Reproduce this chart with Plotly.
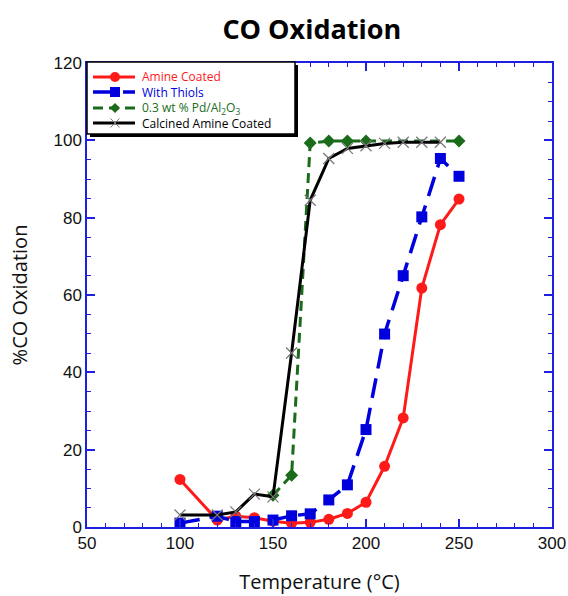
import plotly.graph_objects as go

# Temperatures (°C) and % CO conversion for each catalyst
temp_amine = [100, 120, 130, 140, 150, 160, 170, 180, 190, 200, 210, 220, 230, 240, 250]
conv_amine = [12.3, 1.8, 2.8, 2.4, 1.5, 1.0, 1.2, 2.0, 3.5, 6.4, 15.7, 28.2, 61.8, 78.2, 84.8]

temp_thiols = [100, 120, 130, 140, 150, 160, 170, 180, 190, 200, 210, 220, 230, 240, 250]
conv_thiols = [1.0, 2.8, 1.4, 1.4, 1.8, 2.9, 3.4, 7.0, 10.9, 25.2, 49.9, 65.0, 80.2, 95.3, 90.7]

temp_pd = [150, 160, 170, 180, 190, 200, 250]
conv_pd = [8.2, 13.4, 99.3, 99.8, 99.8, 99.8, 99.8]

temp_calcined = [100, 120, 130, 140, 150, 160, 170, 180, 190, 200, 210, 220, 230, 240]
conv_calcined = [3.1, 3.1, 3.9, 8.5, 7.8, 45.0, 84.5, 95.3, 97.9, 98.6, 99.2, 99.5, 99.5, 99.5]

series_names = [
    "Amine Coated",
    "With Thiols",
    "0.3 wt % Pd/Al<sub>2</sub>O<sub>3</sub>",
    "Calcined Amine Coated",
]
series_colors = ["#ff1a1a", "#0000dd", "#1a6b1a", "#000000"]

AXIS_BLUE = "#1f1fe0"
X_MARK_GREY = "#777777"

# figure geometry (pixels)
W, H = 568, 596
ML, MR, MT, MB = 87, 16, 63, 69
PW, PH = W - ML - MR, H - MT - MB


def px(x):
    """pixel column -> paper x"""
    return (x - ML) / PW


def py(y):
    """pixel row -> paper y"""
    return (H - MB - y) / PH


fig = go.Figure()

fig.add_trace(go.Scatter(
    x=temp_amine, y=conv_amine, name=series_names[0], mode="lines+markers",
    line=dict(color=series_colors[0], width=3),
    marker=dict(symbol="circle", size=11, color=series_colors[0]),
))
fig.add_trace(go.Scatter(
    x=temp_thiols, y=conv_thiols, name=series_names[1], mode="lines+markers",
    line=dict(color=series_colors[1], width=3.5, dash="20px,10px"),
    marker=dict(symbol="square", size=11, color=series_colors[1]),
))
fig.add_trace(go.Scatter(
    x=temp_pd, y=conv_pd, name=series_names[2], mode="lines+markers",
    line=dict(color=series_colors[2], width=3, dash="10px,6px"),
    marker=dict(symbol="diamond", size=10, color=series_colors[2]),
))
fig.add_trace(go.Scatter(
    x=temp_calcined, y=conv_calcined, name=series_names[3], mode="lines+markers",
    line=dict(color=series_colors[3], width=3),
    marker=dict(symbol="x-thin-open", size=11, color=X_MARK_GREY,
                line=dict(width=1.2, color=X_MARK_GREY)),
))

axis_common = dict(
    showline=True, linecolor=AXIS_BLUE, linewidth=1.5, mirror="ticks",
    ticks="inside", tickcolor=AXIS_BLUE, ticklen=8, tickwidth=1.5,
    showgrid=False, zeroline=False, automargin=False,
    tickfont=dict(family="Liberation Sans, Arial", size=17, color="#111111"),
)

fig.update_xaxes(
    range=[50, 300], tick0=50, dtick=50,
    minor=dict(dtick=10, ticks="inside", ticklen=4, tickcolor=AXIS_BLUE, tickwidth=1.2),
    title=dict(text="Temperature (°C)", font=dict(family="Open Sans", size=20, color="#111111"),
               standoff=23),
    **axis_common,
)
fig.update_yaxes(
    range=[0, 120], tick0=0, dtick=20,
    minor=dict(dtick=5, ticks="inside", ticklen=4, tickcolor=AXIS_BLUE, tickwidth=1.2),
    title=dict(text="%CO Oxidation", font=dict(family="Open Sans", size=20, color="#111111"),
               standoff=20),
    **axis_common,
)

# ---- legend box drawn with shapes + annotations ----
BOX_L, BOX_R, BOX_T, BOX_B = 87, 295, 62, 134
SHADOW = 3
ROWS = [77, 92, 108, 123]
LINE_X0, LINE_X1, MARK_X, TEXT_X = 93, 135, 115, 140

shapes = [
    dict(type="rect", xref="paper", yref="paper",
         x0=px(BOX_L + SHADOW), x1=px(BOX_R + SHADOW), y0=py(BOX_B + SHADOW), y1=py(BOX_T + SHADOW),
         fillcolor="black", line=dict(width=0), layer="above"),
    dict(type="rect", xref="paper", yref="paper",
         x0=px(BOX_L), x1=px(BOX_R), y0=py(BOX_B), y1=py(BOX_T),
         fillcolor="white", line=dict(color="black", width=1.5), layer="above"),
]
dashes = ["solid", "20px,10px", "10px,6px", "solid"]
widths = [3, 3.5, 3, 3]
for row, color, dash, lw in zip(ROWS, series_colors, dashes, widths):
    shapes.append(dict(type="line", xref="paper", yref="paper",
                       x0=px(LINE_X0), x1=px(LINE_X1), y0=py(row), y1=py(row),
                       line=dict(color=color, width=lw, dash=dash), layer="above"))

# legend symbols
r = 5
shapes.append(dict(type="circle", xref="paper", yref="paper",
                   x0=px(MARK_X - r), x1=px(MARK_X + r), y0=py(ROWS[0] + r), y1=py(ROWS[0] - r),
                   fillcolor=series_colors[0], line=dict(width=0), layer="above"))
shapes.append(dict(type="rect", xref="paper", yref="paper",
                   x0=px(MARK_X - r), x1=px(MARK_X + r), y0=py(ROWS[1] + r), y1=py(ROWS[1] - r),
                   fillcolor=series_colors[1], line=dict(width=0), layer="above"))
d = 5
shapes.append(dict(type="path", xref="paper", yref="paper",
                   path=(f"M {px(MARK_X - d)},{py(ROWS[2])} L {px(MARK_X)},{py(ROWS[2] - d)} "
                         f"L {px(MARK_X + d)},{py(ROWS[2])} L {px(MARK_X)},{py(ROWS[2] + d)} Z"),
                   fillcolor=series_colors[2], line=dict(width=0), layer="above"))
for sgn in (1, -1):
    shapes.append(dict(type="line", xref="paper", yref="paper",
                       x0=px(MARK_X - 4.5), x1=px(MARK_X + 4.5),
                       y0=py(ROWS[3] - 4.5 * sgn), y1=py(ROWS[3] + 4.5 * sgn),
                       line=dict(color=X_MARK_GREY, width=1), layer="above"))

annotations = []
for row, color, label in zip(ROWS, series_colors, series_names):
    annotations.append(dict(
        x=px(TEXT_X), y=py(row), xref="paper", yref="paper",
        xanchor="left", yanchor="middle", showarrow=False, text=label,
        font=dict(family="Open Sans", size=12, color=color),
    ))

fig.update_layout(
    width=W, height=H,
    margin=dict(l=ML, r=MR, t=MT, b=MB),
    paper_bgcolor="white", plot_bgcolor="white",
    title=dict(
        text="<b>CO Oxidation</b>", x=0.549, xanchor="center", y=0.951, yanchor="middle",
        font=dict(family="Open Sans", size=27, color="black"),
    ),
    shapes=shapes,
    annotations=annotations,
    showlegend=False,
)

fig.write_html("out.html")
